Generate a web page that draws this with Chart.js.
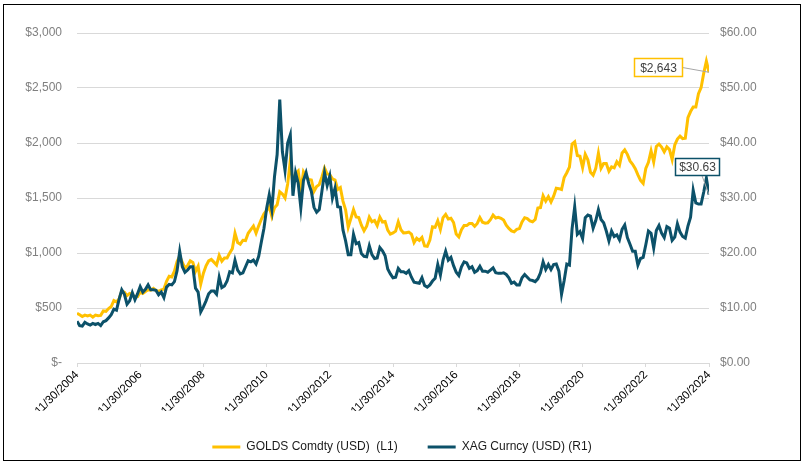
<!DOCTYPE html>
<html>
<head>
<meta charset="utf-8">
<script src="https://cdn.jsdelivr.net/npm/chart.js@4/dist/chart.umd.min.js"></script>
<style>
  html, body { margin: 0; padding: 0; background: #fff; }
  #wrap { width: 804px; height: 464px; }
</style>
</head>
<body>
<div id="wrap"><canvas id="metalesChart" width="804" height="464"></canvas></div>
<script>
// month-end prices, 11/2004 .. 11/2024 (241 months)
const goldPrices = [
    453, 438,
    422, 435, 428, 435, 417, 436, 429, 433, 473, 470, 495, 513,
    568, 556, 582, 654, 643, 613, 633, 623, 599, 604, 646, 632,
    650, 665, 662, 678, 659, 650, 665, 672, 743, 789, 783, 834,
    923, 972, 916, 863, 886, 928, 913, 833, 880, 718, 816, 884,
    928, 942, 917, 891, 978, 926, 955, 955, 1001, 1040, 1180, 1096,
    1081, 1116, 1113, 1179, 1212, 1244, 1181, 1247, 1307, 1357, 1386, 1421,
    1332, 1411, 1439, 1556, 1536, 1500, 1628, 1840, 1620, 1722, 1746, 1566,
    1738, 1697, 1669, 1664, 1560, 1604, 1622, 1692, 1772, 1719, 1712, 1675,
    1663, 1578, 1595, 1472, 1393, 1234, 1313, 1395, 1327, 1323, 1253, 1202,
    1244, 1326, 1284, 1296, 1250, 1327, 1282, 1287, 1208, 1171, 1182, 1199,
    1283, 1212, 1183, 1184, 1190, 1172, 1095, 1134, 1115, 1142, 1064, 1061,
    1118, 1238, 1233, 1293, 1215, 1322, 1351, 1309, 1316, 1277, 1173, 1146,
    1211, 1249, 1249, 1268, 1268, 1242, 1269, 1322, 1280, 1271, 1275, 1303,
    1345, 1318, 1325, 1315, 1299, 1253, 1224, 1201, 1192, 1215, 1222, 1282,
    1321, 1313, 1292, 1284, 1305, 1409, 1413, 1520, 1472, 1513, 1464, 1517,
    1589, 1585, 1577, 1687, 1730, 1781, 1990, 2010, 1886, 1879, 1777, 1898,
    1847, 1734, 1708, 1769, 1907, 1770, 1814, 1814, 1743, 1783, 1774, 1829,
    1797, 1909, 1937, 1897, 1837, 1807, 1766, 1711, 1660, 1633, 1768, 1824,
    1928, 1827, 1969, 1990, 1963, 1919, 1965, 1940, 1849, 1983, 2036, 2063,
    2040, 2044, 2230, 2286, 2327, 2327, 2448, 2503, 2635, 2744, 2643
];

const silverPrices = [
    7.6, 6.8,
    6.7, 7.4, 7.1, 6.9, 7.2, 7.0, 7.2, 6.8, 7.5, 7.7, 8.2, 8.8,
    9.8, 9.6, 11.6, 13.3, 12.5, 10.7, 11.3, 12.8, 11.5, 12.6, 13.9, 12.9,
    13.4, 14.2, 13.3, 13.3, 13.2, 12.4, 12.9, 11.9, 13.8, 14.3, 14.2, 14.8,
    16.8, 20.3, 17.5, 16.5, 16.9, 17.5, 17.5, 13.6, 12.9, 9.3, 10.2, 11.3,
    12.6, 13.1, 13.1, 12.5, 15.6, 13.7, 14.0, 14.9, 16.6, 16.4, 18.7, 16.9,
    16.2, 16.4, 17.5, 18.6, 18.4, 18.7, 18.0, 19.4, 22.0, 24.5, 28.1, 30.6,
    27.9, 33.9, 37.9, 47.9, 38.4, 35.0, 40.0, 41.5, 30.4, 34.6, 32.7, 28.2,
    33.2, 34.6, 32.6, 31.2, 28.3, 27.4, 27.9, 31.2, 34.6, 32.3, 34.0, 30.0,
    31.8, 28.4, 28.3, 24.2, 22.2, 19.7, 19.7, 23.4, 21.7, 21.9, 19.9, 19.4,
    19.3, 21.3, 19.7, 19.0, 19.1, 21.0, 20.4, 19.5, 17.1, 16.2, 15.5, 15.6,
    17.2, 16.6, 16.6, 16.3, 16.8, 15.6, 14.7, 14.6, 14.5, 15.5, 14.1, 13.8,
    14.2, 14.9, 15.4, 17.9, 16.0, 18.7, 20.3, 18.7, 19.2, 17.7, 16.5, 15.9,
    17.5, 18.4, 18.2, 17.2, 17.5, 16.5, 16.8, 17.6, 16.7, 16.7, 16.5, 16.9,
    17.3, 16.4, 16.3, 16.3, 16.4, 16.1, 15.5, 14.5, 14.7, 14.2, 14.2, 15.5,
    16.1, 15.6, 15.1, 15.0, 14.8, 15.3, 16.4, 18.4, 17.0, 17.9, 17.0, 17.9,
    18.0, 16.7, 12.5, 15.0, 18.0, 17.8, 24.4, 28.4, 23.4, 23.9, 22.6, 26.4,
    26.9, 26.7, 24.5, 25.9, 27.9, 26.1, 25.5, 24.0, 22.2, 24.0, 23.0, 23.3,
    22.4, 24.3, 25.1, 22.8, 21.6, 20.3, 20.3, 17.8, 19.0, 19.2, 21.5, 24.0,
    23.6, 20.9, 24.1, 25.0, 23.6, 22.8, 24.8, 24.5, 22.3, 22.9, 25.3, 23.8,
    23.0, 22.7, 24.9, 26.5, 31.4, 29.1, 28.9, 28.9, 31.1, 33.6, 30.63
];

const xTickLabels = ['11/30/2004', '11/30/2006', '11/30/2008', '11/30/2010', '11/30/2012',
    '11/30/2014', '11/30/2016', '11/30/2018', '11/30/2020', '11/30/2022', '11/30/2024'];
const leftTickLabels = ['$-', '$500', '$1,000', '$1,500', '$2,000', '$2,500', '$3,000'];
const rightTickLabels = ['$0.00', '$10.00', '$20.00', '$30.00', '$40.00', '$50.00', '$60.00'];
const seriesNames = ['GOLDS Comdty (USD)  (L1)', 'XAG Curncy (USD) (R1)'];
const lastLabels = ['$2,643', '$30.63'];

const GOLD = '#FFC000';
const TEAL = '#0C5169';

function aPuntos(valores) {
    return valores.map(function (v, i) { return { x: i, y: v }; });
}

// recuadro negro alrededor de todo
const marcoPlugin = {
    id: 'marco',
    afterDraw: function (chart) {
        const ctx = chart.ctx;
        ctx.save();
        ctx.strokeStyle = '#000';
        ctx.lineWidth = 1;
        ctx.strokeRect(3.5, 4.5, 797, 456);
        ctx.restore();
    }
};

// etiquetas del ultimo valor con linea guia
const ultimoValorPlugin = {
    id: 'ultimoValor',
    afterDatasetsDraw: function (chart) {
        const ctx = chart.ctx;
        const cajas = [
            { ds: 0, dx: -75, dy: -14, w: 48, h: 18, color: GOLD, ax: 'right' },
            { ds: 1, dx: -34, dy: -37, w: 44, h: 17, color: TEAL, ax: 'bottom' }
        ];
        ctx.save();
        cajas.forEach(function (c) {
            const meta = chart.getDatasetMeta(c.ds);
            const pt = meta.data[meta.data.length - 1];
            const bx = Math.round(pt.x + c.dx) + 0.5;
            const by = Math.round(pt.y + c.dy) + 0.5;
            // guia
            ctx.strokeStyle = '#a6a6a6';
            ctx.lineWidth = 1;
            ctx.beginPath();
            if (c.ax === 'right') {
                ctx.moveTo(bx + c.w, by + c.h / 2);
            } else {
                ctx.moveTo(bx + c.w * 0.6, by + c.h);
            }
            ctx.lineTo(pt.x, pt.y);
            ctx.stroke();
            // caja
            ctx.fillStyle = '#fff';
            ctx.fillRect(bx, by, c.w, c.h);
            ctx.strokeStyle = c.color;
            ctx.lineWidth = 1.5;
            ctx.strokeRect(bx, by, c.w, c.h);
            ctx.fillStyle = '#404040';
            ctx.font = '12px "Liberation Sans", Arial, sans-serif';
            ctx.textAlign = 'center';
            ctx.textBaseline = 'middle';
            ctx.fillText(lastLabels[c.ds], bx + c.w / 2, by + c.h / 2 + 1);
        });
        ctx.restore();
    }
};

Chart.defaults.font.family = '"Liberation Sans", Arial, sans-serif';

const ctx = document.getElementById('metalesChart').getContext('2d');

new Chart(ctx, {
    type: 'line',
    data: {
        datasets: [{
            label: seriesNames[0],
            data: aPuntos(goldPrices),
            yAxisID: 'y',
            borderColor: GOLD,
            backgroundColor: GOLD,
            borderWidth: 3,
            pointRadius: 0,
            tension: 0,
            order: 1
        }, {
            label: seriesNames[1],
            data: aPuntos(silverPrices),
            yAxisID: 'y1',
            borderColor: TEAL,
            backgroundColor: TEAL,
            borderWidth: 3,
            pointRadius: 0,
            tension: 0,
            order: 0
        }]
    },
    options: {
        responsive: false,
        animation: false,
        layout: {
            padding: { top: 33, left: 0, right: 0, bottom: 1 }
        },
        plugins: {
            tooltip: { enabled: false },
            legend: {
                position: 'bottom',
                labels: {
                    usePointStyle: true,
                    pointStyle: 'line',
                    pointStyleWidth: 28,
                    padding: 30,
                    color: '#1a1a1a',
                    font: { size: 12 },
                    sort: function (a, b) { return a.datasetIndex - b.datasetIndex; }
                }
            }
        },
        scales: {
            x: {
                type: 'linear',
                min: 0,
                max: 240,
                afterFit: function (scale) { scale.height = 48; },
                border: { display: true, color: '#d9d9d9' },
                grid: { drawOnChartArea: false, drawTicks: true, tickLength: 4, color: '#d9d9d9' },
                ticks: {
                    stepSize: 24,
                    autoSkip: false,
                    maxRotation: 45,
                    minRotation: 45,
                    padding: 1,
                    color: '#000',
                    font: { size: 11.5 },
                    callback: function (value) {
                        return xTickLabels[Math.round(value / 24)];
                    }
                }
            },
            y: {
                position: 'left',
                min: 0,
                max: 3000,
                afterFit: function (scale) { scale.width = 77; },
                border: { display: false },
                grid: { color: '#d9d9d9', drawTicks: false },
                ticks: {
                    stepSize: 500,
                    padding: 15,
                    color: '#808080',
                    font: { size: 12 },
                    callback: function (value) {
                        return leftTickLabels[Math.round(value / 500)];
                    }
                }
            },
            y1: {
                position: 'right',
                min: 0,
                max: 60,
                afterFit: function (scale) { scale.width = 95; },
                border: { display: false },
                grid: { drawOnChartArea: false, drawTicks: false },
                ticks: {
                    stepSize: 10,
                    padding: 11,
                    color: '#808080',
                    font: { size: 12 },
                    callback: function (value) {
                        return rightTickLabels[Math.round(value / 10)];
                    }
                }
            }
        }
    },
    plugins: [ultimoValorPlugin, marcoPlugin]
});
</script>
</body>
</html>
